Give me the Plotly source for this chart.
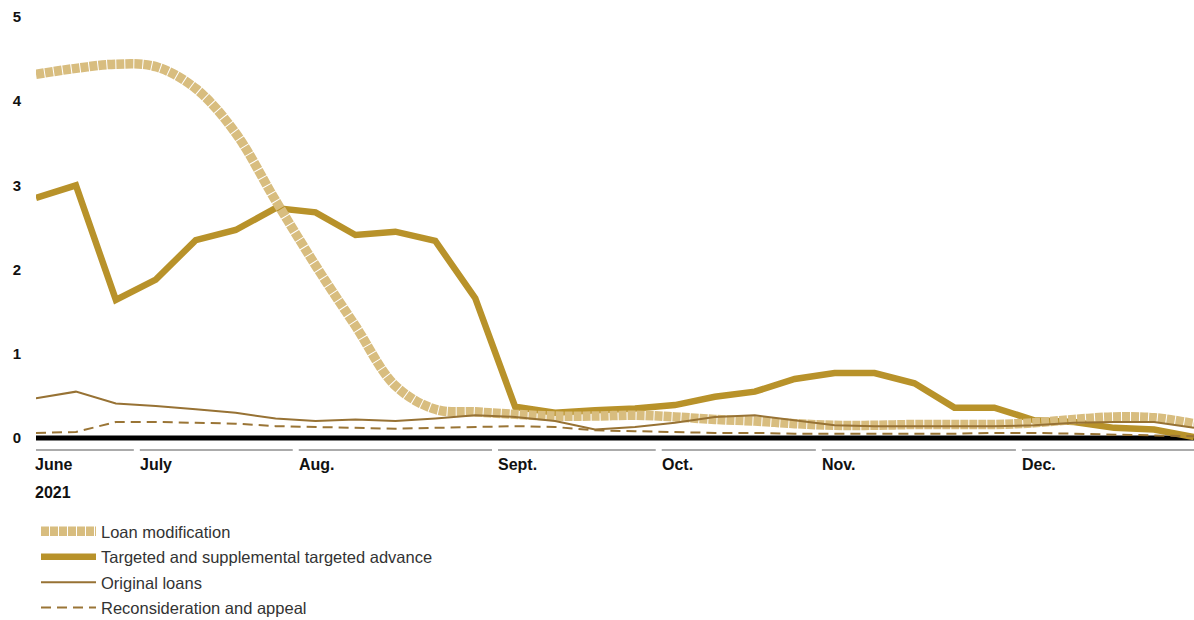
import plotly.graph_objects as go

# ---- data (weekly observations, index 0..29) ----
week_index = list(range(30))

loan_modification = [4.32, 4.39, 4.44, 4.41, 4.15, 3.62, 2.82, 2.05, 1.33, 0.62,
                     0.34, 0.31, 0.28, 0.26, 0.26, 0.27, 0.25, 0.22, 0.20, 0.17,
                     0.15, 0.15, 0.16, 0.16, 0.16, 0.18, 0.22, 0.25, 0.24, 0.17]

targeted_advance = [2.85, 3.00, 1.64, 1.88, 2.35, 2.47, 2.73, 2.68, 2.41, 2.45,
                    2.34, 1.66, 0.37, 0.30, 0.33, 0.35, 0.39, 0.49, 0.55, 0.70,
                    0.77, 0.77, 0.65, 0.36, 0.36, 0.21, 0.19, 0.12, 0.10, 0.01]

original_loans = [0.47, 0.55, 0.41, 0.38, 0.34, 0.30, 0.23, 0.20, 0.22, 0.20,
                  0.23, 0.27, 0.25, 0.20, 0.10, 0.13, 0.18, 0.25, 0.27, 0.21,
                  0.15, 0.14, 0.14, 0.14, 0.14, 0.15, 0.18, 0.19, 0.19, 0.12]

reconsideration = [0.06, 0.07, 0.19, 0.19, 0.18, 0.17, 0.14, 0.13, 0.12, 0.11,
                   0.12, 0.13, 0.14, 0.13, 0.09, 0.08, 0.07, 0.06, 0.06, 0.05,
                   0.05, 0.05, 0.05, 0.05, 0.06, 0.06, 0.05, 0.04, 0.03, 0.02]

month_labels = ["June", "July", "Aug.", "Sept.", "Oct.", "Nov.", "Dec."]
month_starts = [0.0, 2.63, 6.61, 11.60, 15.70, 19.71, 24.72]  # in week-index units
year_label = "2021"
y_ticks = [0, 1, 2, 3, 4, 5]

# ---- styling ----
FONT = "Liberation Sans, Arial, sans-serif"
C_LOANMOD = "#D8BD7F"
C_TARGET = "#B8922A"
C_ORIG = "#977234"
C_RECON = "#9A7536"

W, H = 1194, 620
PLOT_TOP, PLOT_BOTTOM = 17, 443
PLOT_H = PLOT_BOTTOM - PLOT_TOP


def paper_y(py):
    return (PLOT_BOTTOM - py) / PLOT_H


fig = go.Figure()

fig.add_trace(go.Scatter(
    x=week_index, y=targeted_advance, mode="lines", name="Targeted and supplemental targeted advance",
    line=dict(color=C_TARGET, width=6.5), legendrank=2, legendgroup="b"))
fig.add_trace(go.Scatter(
    x=week_index, y=loan_modification, mode="lines", name="Loan modification",
    line=dict(color=C_LOANMOD, width=9.5, shape="spline", smoothing=1.0, dash="8px,1px"),
    legendrank=1, legendgroup="a"))
fig.add_trace(go.Scatter(
    x=week_index, y=original_loans, mode="lines", name="Original loans",
    line=dict(color=C_ORIG, width=2), legendrank=3, legendgroup="c"))
fig.add_trace(go.Scatter(
    x=week_index, y=reconsideration, mode="lines", name="Reconsideration and appeal",
    line=dict(color=C_RECON, width=2, dash="10px,6px"), legendrank=4, legendgroup="d"))

# zero baseline
fig.add_shape(type="line", xref="x", yref="y", x0=0, x1=29, y0=0, y1=0,
              line=dict(color="black", width=5), layer="below")

# month separators + labels
ends = month_starts[1:] + [29.2]
for lab, s, e in zip(month_labels, month_starts, ends):
    x1 = e - 0.18 if e < 29 else 29.2
    fig.add_shape(type="line", xref="x", yref="paper", x0=s - 0.03, x1=x1,
                  y0=paper_y(450), y1=paper_y(450),
                  line=dict(color="#8f8f8f", width=1.5))
    fig.add_annotation(x=s, y=paper_y(464), xref="x", yref="paper", text=lab,
                       showarrow=False, xanchor="left", yanchor="middle", xshift=-3,
                       font=dict(family=FONT, size=16, color="#111", weight="bold"))
fig.add_annotation(x=month_starts[0], y=paper_y(492), xref="x", yref="paper", text=year_label,
                   showarrow=False, xanchor="left", yanchor="middle", xshift=-3,
                   font=dict(family=FONT, size=16, color="#111", weight="bold"))

fig.update_layout(
    width=W, height=H,
    margin=dict(l=36, r=0, t=PLOT_TOP, b=H - PLOT_BOTTOM, autoexpand=False),
    paper_bgcolor="white", plot_bgcolor="white",
    font=dict(family=FONT, color="#222"),
    showlegend=True,
    legend=dict(x=0.0, xanchor="left", y=paper_y(514), yanchor="top",
                font=dict(family=FONT, size=16.5, color="#333"),
                itemwidth=55, tracegroupgap=1, bgcolor="rgba(0,0,0,0)"),
    xaxis=dict(range=[0, 29], showgrid=False, zeroline=False, showticklabels=False,
               showline=False, ticks=""),
    yaxis=dict(range=[-0.06, 5], tickvals=y_ticks, ticktext=[str(v) for v in y_ticks],
               showgrid=False, zeroline=False, showline=False, ticks="",
               ticklabelstandoff=14,
               tickfont=dict(family=FONT, size=15, color="#111", weight="bold")),
)

fig.write_html("out.html", config={"displayModeBar": False},
               post_script="document.body.style.margin='0';")
